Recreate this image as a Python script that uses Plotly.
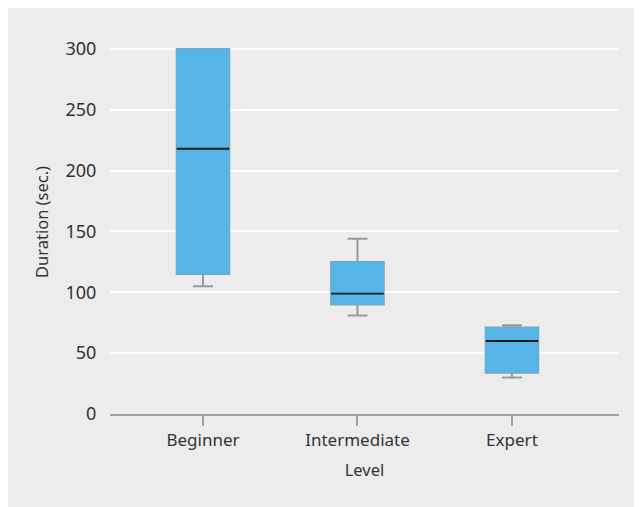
import plotly.graph_objects as go

levels = ["Beginner", "Intermediate", "Expert"]
lower_whisker = [105, 81, 30]
q1 = [115, 90, 34]
median = [218, 99, 60]
q3 = [300, 125, 71]
upper_whisker = [300, 144, 73]

box_fill = "#56B4E6"
whisker_col = "#999999"
median_col = "#1A1A1A"
bg = "#EBECEB"
text_col = "#333333"
font_family = "Noto Sans, Open Sans, sans-serif"

xs = list(range(len(levels)))
box_w = 0.34

fig = go.Figure()
# whiskers (gray)
fig.add_trace(go.Box(
    x=xs, q1=q1, median=median, q3=q3,
    lowerfence=lower_whisker, upperfence=upper_whisker,
    width=box_w, whiskerwidth=0.38,
    fillcolor=box_fill, line=dict(color=whisker_col, width=2),
    boxpoints=False, showlegend=False, hoverinfo="skip",
))
# box body without outline
fig.add_trace(go.Box(
    x=xs, q1=q1, median=median, q3=q3,
    lowerfence=q1, upperfence=q3,
    width=box_w, whiskerwidth=0,
    fillcolor=box_fill, line=dict(color=box_fill, width=1),
    boxpoints=False, showlegend=False, hoverinfo="skip",
))
# median lines
for i, m in enumerate(median):
    fig.add_trace(go.Scatter(
        x=[i - box_w / 2, i + box_w / 2], y=[m, m], mode="lines",
        line=dict(color=median_col, width=1.8), showlegend=False, hoverinfo="skip",
    ))

fig.update_layout(
    width=634, height=499,
    margin=dict(l=102, r=23, t=22, b=93),
    paper_bgcolor=bg, plot_bgcolor=bg,
    boxmode="overlay",
    font=dict(family=font_family, size=17, color=text_col),
    xaxis=dict(
        range=[-0.602, 2.693], tickvals=xs, ticktext=levels,
        tickfont=dict(size=17),
        showgrid=False, zeroline=False,
        showline=True, linecolor="#A0A0A0", linewidth=2,
        ticks="outside", ticklen=10, tickwidth=2, tickcolor="#A0A0A0",
        title=dict(text="Level", standoff=14, font=dict(size=16.5)),
    ),
    yaxis=dict(
        range=[0, 315.6], tickvals=[0, 50, 100, 150, 200, 250, 300],
        tickfont=dict(size=18),
        showgrid=True, gridcolor="white", gridwidth=2, zeroline=False,
        showline=False, ticks="outside", ticklen=9, tickcolor="rgba(0,0,0,0)",
        title=dict(text="Duration (sec.)", standoff=12, font=dict(size=16.5)),
    ),
)

fig.write_html("out.html")
